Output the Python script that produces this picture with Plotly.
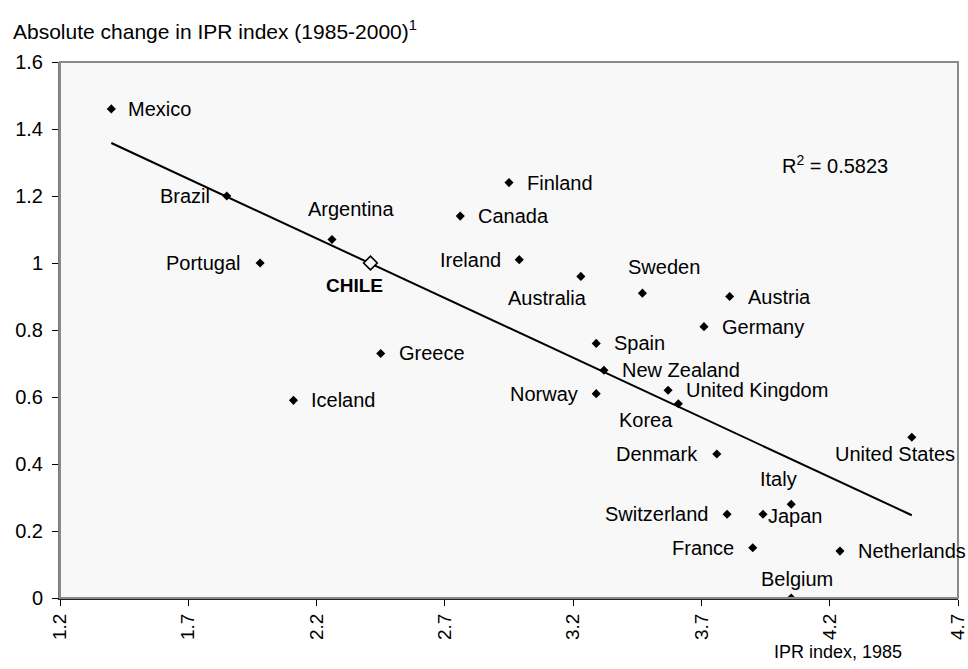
import numpy as np
import plotly.graph_objects as go

# ---- data ----
countries = ["Mexico", "Brazil", "Argentina", "Portugal", "Greece", "Iceland",
             "Finland", "Canada", "Ireland", "Australia", "Sweden", "Austria",
             "Germany", "Spain", "New Zealand", "Norway", "United Kingdom", "Korea",
             "Denmark", "United States", "Italy", "Switzerland", "Japan", "France",
             "Netherlands", "Belgium"]
ipr_1985 = [1.40, 1.85, 2.26, 1.98, 2.45, 2.11,
            2.95, 2.76, 2.99, 3.23, 3.47, 3.81,
            3.71, 3.29, 3.32, 3.29, 3.57, 3.61,
            3.76, 4.52, 4.05, 3.80, 3.94, 3.90,
            4.24, 4.05]
ipr_change = [1.46, 1.20, 1.07, 1.00, 0.73, 0.59,
              1.24, 1.14, 1.01, 0.96, 0.91, 0.90,
              0.81, 0.76, 0.68, 0.61, 0.62, 0.58,
              0.43, 0.48, 0.28, 0.25, 0.25, 0.15,
              0.14, 0.00]
chile_name = "CHILE"
chile_1985 = [2.41]
chile_change = [1.00]
r2_text = "R<sup>2</sup> = 0.5823"
x_ticks = [1.2, 1.7, 2.2, 2.7, 3.2, 3.7, 4.2, 4.7]
y_ticks = [0, 0.2, 0.4, 0.6, 0.8, 1.0, 1.2, 1.4, 1.6]

# ---- label placement (anchor, dx px right, dy px down) ----
label_pos = {
    "Mexico": ("left", 15, 0), "Brazil": ("right", -15, 0),
    "Argentina": ("center", 19, -31), "Portugal": ("right", -17, 0),
    "Greece": ("left", 16, 0), "Iceland": ("left", 16, 0),
    "Finland": ("left", 16, 0), "Canada": ("left", 16, 0),
    "Ireland": ("right", -16, 0), "Australia": ("center", -33, 22),
    "Sweden": ("center", 22, -26), "Austria": ("left", 16, 0),
    "Germany": ("left", 16, 0), "Spain": ("left", 16, 0),
    "New Zealand": ("left", 16, 0), "Norway": ("right", -16, 0),
    "United Kingdom": ("left", 16, 0), "Korea": ("center", -32, 16),
    "Denmark": ("right", -17, 0), "United States": ("center", -17, 17),
    "Italy": ("center", -13, -25), "Switzerland": ("right", -17, 0),
    "Japan": ("left", 3, 2), "France": ("right", -17, 0),
    "Netherlands": ("left", 16, 0), "Belgium": ("center", 6, -19),
}

FONT = "Liberation Sans, Arial, sans-serif"

fig = go.Figure()

# trendline (least squares over all points)
all_x = np.array(ipr_1985 + chile_1985)
all_y = np.array(ipr_change + chile_change)
slope, intercept = np.polyfit(all_x, all_y, 1)
tx = np.array([all_x.min(), all_x.max()])
fig.add_trace(go.Scatter(x=tx, y=slope * tx + intercept, mode="lines",
                         line=dict(color="black", width=2), hoverinfo="skip",
                         showlegend=False))

fig.add_trace(go.Scatter(x=ipr_1985, y=ipr_change, mode="markers",
                         marker=dict(symbol="diamond", size=7, color="black"),
                         text=countries, showlegend=False))
fig.add_trace(go.Scatter(x=chile_1985, y=chile_change, mode="markers",
                         marker=dict(symbol="diamond", size=10.5, color="#f8f8f8",
                                     line=dict(color="black", width=1.6)),
                         text=[chile_name], showlegend=False))

annotations = []
for name, xv, yv in zip(countries, ipr_1985, ipr_change):
    anc, dx, dy = label_pos[name]
    annotations.append(dict(x=xv, y=yv, xref="x", yref="y", text=name,
                            showarrow=False, xanchor=anc, yanchor="middle",
                            xshift=dx, yshift=-dy,
                            font=dict(family=FONT, size=20, color="black")))
annotations.append(dict(x=chile_1985[0], y=chile_change[0], xref="x", yref="y",
                        text="<b>" + chile_name + "</b>", showarrow=False,
                        xanchor="center", yanchor="middle", xshift=-16, yshift=-22,
                        font=dict(family=FONT, size=19, color="black")))
annotations.append(dict(x=4.22, y=1.293, xref="x", yref="y", text=r2_text,
                        showarrow=False, xanchor="center", yanchor="middle",
                        font=dict(family=FONT, size=20, color="black")))
# axis titles
annotations.append(dict(x=(11 - 60) / 898, y=(598 - 30) / 536, xref="paper", yref="paper",
                        text="Absolute change in IPR index (1985-2000)<sup>1</sup>",
                        showarrow=False, xanchor="left", yanchor="middle",
                        font=dict(family=FONT, size=21, color="black")))
annotations.append(dict(x=(838 - 60) / 898, y=(598 - 652) / 536, xref="paper", yref="paper",
                        text="IPR index, 1985", showarrow=False,
                        xanchor="center", yanchor="middle",
                        font=dict(family=FONT, size=18, color="black")))

fig.update_layout(
    width=968, height=669,
    margin=dict(l=60, r=10, t=62, b=71),
    paper_bgcolor="white", plot_bgcolor="#f8f8f8",
    annotations=annotations,
    shapes=[dict(type="rect", xref="paper", yref="paper", x0=0, y0=0, x1=1, y1=1,
                 line=dict(color="#8a8a8a", width=2), layer="above")],
    font=dict(family=FONT, color="black"),
)
fig.update_xaxes(range=[1.2, 4.7], tickvals=x_ticks, ticktext=[f"{v:.1f}" for v in x_ticks],
                 tickangle=-90, ticks="outside", ticklen=6, tickcolor="black",
                 ticklabeloverflow="allow", automargin=False,
                 showgrid=False, zeroline=False, showline=True, linecolor="#222222",
                 linewidth=2, tickfont=dict(family=FONT, size=19, color="black"))
fig.update_yaxes(range=[0, 1.6], tickvals=y_ticks, ticktext=[f"{v:g}" for v in y_ticks],
                 ticks="outside", ticklen=6, tickcolor="black", ticklabelstandoff=5,
                 automargin=False,
                 showgrid=False, zeroline=False, showline=True, linecolor="#777777",
                 linewidth=2, tickfont=dict(family=FONT, size=20, color="black"))

fig.write_html("out.html", config={"displayModeBar": False},
               post_script="document.body.style.margin='0';document.body.style.overflow='hidden';")
